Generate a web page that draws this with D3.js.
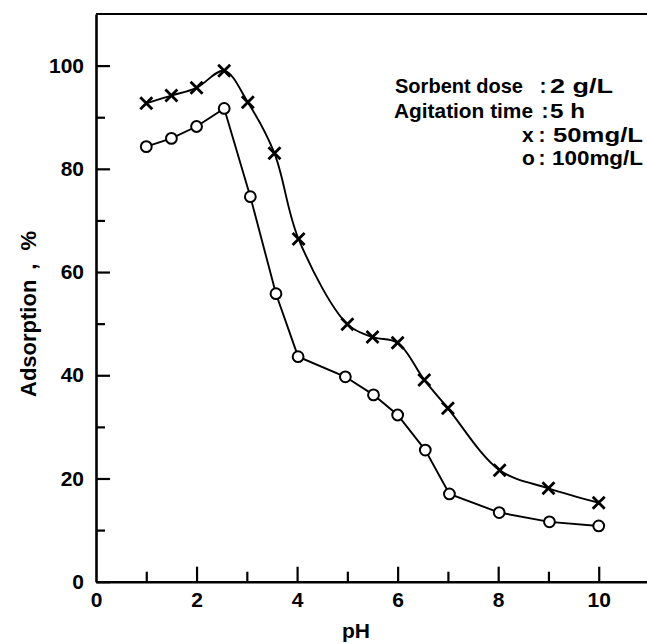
<!DOCTYPE html>
<html><head><meta charset="utf-8">
<script src="https://cdn.jsdelivr.net/npm/d3@7"></script>
<style>body{margin:0;background:#fff}svg{display:block}</style>
</head><body><svg id="c" width="647" height="644"></svg>
<script>
// Data
const pH50   = [1, 1.5, 2, 2.55, 3.02, 3.55, 4.03, 5, 5.5, 6, 6.53, 7, 8.03, 9, 10];
const ads50  = [92.7, 94.2, 95.7, 99.0, 92.9, 83.0, 66.4, 49.9, 47.4, 46.3, 39.1, 33.6, 21.6, 18.1, 15.3];
const pH100  = [1, 1.5, 2, 2.55, 3.07, 3.58, 4.02, 4.96, 5.52, 6, 6.55, 7.03, 8.02, 9.02, 10];
const ads100 = [84.3, 85.9, 88.2, 91.7, 74.6, 55.8, 43.6, 39.7, 36.2, 32.3, 25.5, 17.0, 13.4, 11.6, 10.8];
const xMajorTicks = [0, 2, 4, 6, 8, 10];
const xMinorTicks = [1, 3, 5, 7, 9];
const yMajorTicks = [0, 20, 40, 60, 80, 100];
const yMinorTicks = [10, 30, 50, 70, 90];
const xDomain = [0, 11];
const yDomain = [0, 110];
const legendLeft  = ["Sorbent dose", "Agitation time", "x", "o"];
const legendRight = ["2 g/L", "5 h", "50mg/L", "100mg/L"];

const FONT = "'Liberation Sans', Arial, sans-serif";
const svg = d3.select("#c");
const x = d3.scaleLinear().domain(xDomain).range([96, 649]);
const y = d3.scaleLinear().domain(yDomain).range([581.7, 14]);

function styleAxis(g, fs) {
  g.select(".domain").attr("stroke", "#000").attr("stroke-width", 2.6);
  g.selectAll(".tick line").attr("stroke", "#000").attr("stroke-width", 2.2);
  g.selectAll(".tick text").attr("font-family", FONT).attr("font-weight", "bold")
    .attr("font-size", fs).attr("fill", "#000");
}

// minor ticks
svg.append("g").attr("transform", `translate(${x(0)},0)`)
  .call(d3.axisLeft(y).tickValues(yMinorTicks).tickSize(-9).tickFormat(""))
  .call(g => { g.select(".domain").remove(); g.selectAll(".tick line").attr("stroke","#000").attr("stroke-width",2.2); });
svg.append("g").attr("transform", `translate(0,${y(0)})`)
  .call(d3.axisBottom(x).tickValues(xMinorTicks).tickSize(-10).tickFormat(""))
  .call(g => { g.select(".domain").remove(); g.selectAll(".tick line").attr("stroke","#000").attr("stroke-width",2.2); });

// major axes
svg.append("g").attr("transform", `translate(${x(0)},0)`)
  .call(d3.axisLeft(y).tickValues(yMajorTicks).tickSize(-14).tickSizeOuter(0).tickPadding(12).tickFormat(d3.format("d")))
  .call(g => styleAxis(g, 21));
svg.append("g").attr("transform", `translate(0,${y(0)})`)
  .call(d3.axisBottom(x).tickValues(xMajorTicks).tickSize(-15).tickSizeOuter(0).tickPadding(10).tickFormat(d3.format("d")))
  .call(g => styleAxis(g, 21))
  .call(g => g.selectAll(".tick").filter(d => d === 0).select("line").remove());

// top frame line
svg.append("line").attr("x1", x(0)).attr("x2", x(xDomain[1])).attr("y1", y(yDomain[1])).attr("y2", y(yDomain[1]))
  .attr("stroke", "#000").attr("stroke-width", 2.2);

// axis titles
svg.append("text").attr("x", 356).attr("y", 638).attr("text-anchor", "middle")
  .attr("font-family", FONT).attr("font-weight", "bold").attr("font-size", 21).text("pH");
const yt = svg.append("text").attr("transform", "translate(36,397) rotate(-90)")
  .attr("font-family", FONT).attr("font-weight", "bold").attr("font-size", 22);
yt.append("tspan").text("Adsorption");
yt.append("tspan").attr("dx", 10).text(",");
yt.append("tspan").attr("dx", 13).text("%");

// series
const s50 = pH50.map((p, i) => [p, ads50[i]]);
const s100 = pH100.map((p, i) => [p, ads100[i]]);
svg.append("path").datum(s50)
  .attr("d", d3.line().x(d => x(d[0])).y(d => y(d[1])).curve(d3.curveCatmullRom.alpha(0.5)))
  .attr("fill", "none").attr("stroke", "#000").attr("stroke-width", 1.9);
svg.append("path").datum(s100)
  .attr("d", d3.line().x(d => x(d[0])).y(d => y(d[1])))
  .attr("fill", "none").attr("stroke", "#000").attr("stroke-width", 1.9);

svg.append("g").selectAll("path").data(s50).join("path")
  .attr("transform", d => `translate(${x(d[0])},${y(d[1])})`)
  .attr("d", "M-6,-6L6,6M-6,6L6,-6")
  .attr("stroke", "#000").attr("stroke-width", 2.8).attr("fill", "none");
svg.append("g").selectAll("circle").data(s100).join("circle")
  .attr("cx", d => x(d[0])).attr("cy", d => y(d[1])).attr("r", 5.4)
  .attr("fill", "#fff").attr("stroke", "#000").attr("stroke-width", 2);

// legend / annotation
const baselines = [93.3, 118.3, 141.7, 165];
const leftX = [395, 394, 522, 522];
const leftW = [128, 139, null, null];
const colonX = [543, 545, 542, 542];
const rightX = [550, 550, 553, 552];
const rightW = [63, 35, 90, 91];
const lg = svg.append("g").attr("font-family", FONT).attr("font-weight", "bold").attr("font-size", 21).attr("fill", "#000");
legendLeft.forEach((t, i) => {
  const lt = lg.append("text").attr("x", leftX[i]).attr("y", baselines[i]).text(t);
  if (leftW[i]) lt.attr("textLength", leftW[i]).attr("lengthAdjust", "spacingAndGlyphs");
  lg.append("text").attr("x", colonX[i]).attr("y", baselines[i]).attr("text-anchor", "middle").text(":");
  lg.append("text").attr("x", rightX[i]).attr("y", baselines[i])
    .attr("textLength", rightW[i]).attr("lengthAdjust", "spacingAndGlyphs").text(legendRight[i]);
});
</script></body></html>
